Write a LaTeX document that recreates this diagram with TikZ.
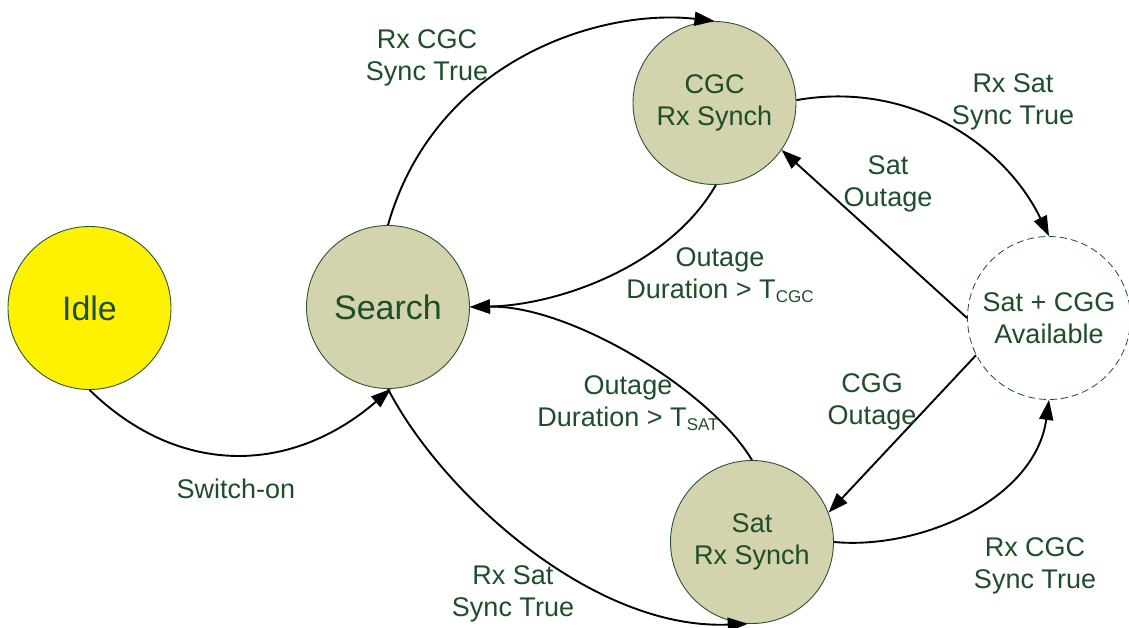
\documentclass[tikz,border=0pt]{standalone}
\usepackage{fontspec}
\setmainfont{Liberation Sans}
\usetikzlibrary{arrows.meta}
\definecolor{txtgreen}{RGB}{30,77,43}
\definecolor{khaki}{RGB}{211,211,173}
\definecolor{bordergreen}{RGB}{40,85,55}
\newcommand{\subtxt}[1]{\raisebox{-4pt}{\fontsize{17}{17}\selectfont #1}}
\begin{document}
\begin{tikzpicture}[x=1pt,y=-1pt,
  state/.style={circle, draw=bordergreen, line width=0.9pt, minimum size=163pt,
    inner sep=0pt, align=center, text=txtgreen, font=\fontsize{27}{32}\selectfont},
  bigstate/.style={state, font=\fontsize{34}{40}\selectfont},
  lbl/.style={align=center, text=txtgreen, font=\fontsize{27}{32}\selectfont, inner sep=0pt},
  arr/.style={-{Triangle[length=20pt,width=14pt]}, line width=1.9pt, black}
]
\useasboundingbox (0,0) rectangle (1129,628);
\node[bigstate, fill=yellow] (idle) at (89.5,308) {Idle};
\node[bigstate, fill=khaki] (search) at (388,307) {Search};
\node[state, fill=khaki] (cgc) at (714.5,103) {CGC\\Rx Synch};
\node[state, fill=white, draw=txtgreen, line width=0.8pt, dash pattern=on 7pt off 4pt] (sc) at (1049,318) {Sat + CGG\\Available};
\node[state, fill=khaki] (sat) at (752,542) {Sat\\Rx Synch};

\draw[arr] (idle.south) .. controls (180,478) and (292,474) .. (search.-88);
\draw[arr] (search.north) .. controls (435,60) and (600,8) .. (cgc.north);
\draw[arr] (cgc.2) .. controls (910,80) and (1005,145) .. (sc.north);
\draw[arr] (sc.west) -- (cgc.-35);
\draw[arr] (cgc.-89) .. controls (670,265) and (560,305) .. (search.east);
\draw[arr] (sat.north) .. controls (710,390) and (570,305) .. (search.east);
\draw[arr] (sc.-153) -- (sat.21);
\draw[arr] (sat.east) .. controls (920,550) and (1035,500) .. (sc.south);
\draw[arr] (search.south) .. controls (440,490) and (590,630) .. (sat.-93);

\node[lbl] (l1) at (427,58) {Rx CGC\\Sync True};
\node[lbl] (l2) at (1013,102) {Rx Sat\\Sync True};
\node[lbl] (l3) at (888,184) {Sat\\Outage};
\node[lbl] (l4) at (720,275) {Outage\\Duration > T\subtxt{CGC}};
\node[lbl] (l5) at (628,403) {Outage\\Duration > T\subtxt{SAT}};
\node[lbl] (l6) at (872,402) {CGG\\Outage};
\node[lbl] (l7) at (1035,566) {Rx CGC\\Sync True};
\node[lbl] (l8) at (513,594) {Rx Sat\\Sync True};
\node[lbl] (l9) at (236,489) {Switch-on};
\end{tikzpicture}
\end{document}
